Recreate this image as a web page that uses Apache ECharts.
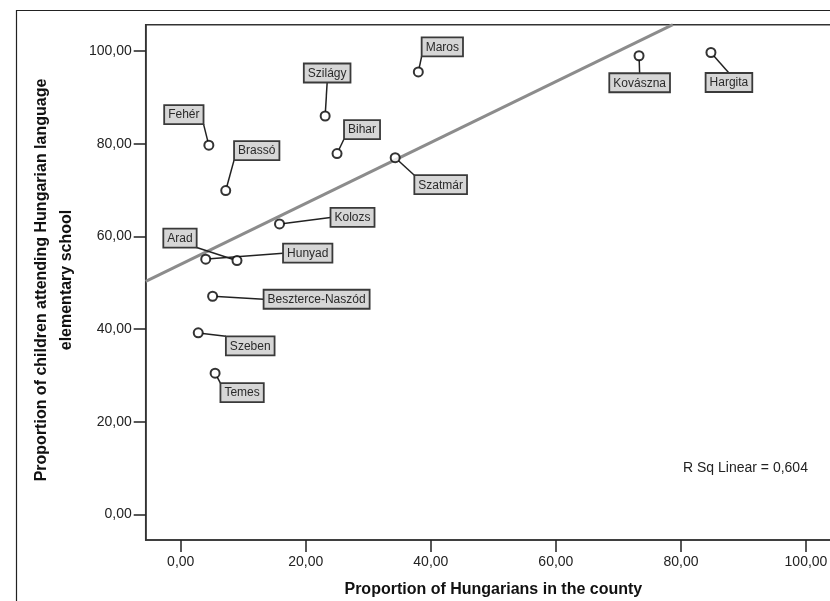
<!DOCTYPE html>
<html>
<head>
<meta charset="utf-8">
<script src="https://cdn.jsdelivr.net/npm/echarts@6/dist/echarts.min.js"></script>
<style>
html,body{margin:0;padding:0;background:#fff;}
#chart{width:830px;height:601px;}
</style>
</head>
<body>
<div id="chart"></div>
<script>
// ---- data ----
const counties = ['Maros','Kovászna','Hargita','Szilágy','Fehér','Bihar','Brassó','Szatmár','Kolozs','Arad','Hunyad','Beszterce-Naszód','Szeben','Temes'];
const hungarianShare = [38.0,73.3,84.8,23.1,4.5,25.0,7.2,34.3,15.8,9.0,4.0,5.1,2.8,5.5];
const schoolShare    = [95.5,99.0,99.7,86.0,79.7,77.9,69.9,77.0,62.7,54.8,55.1,47.1,39.2,30.5];
const xTicks = [0,20,40,60,80,100];
const yTicks = [0,20,40,60,80,100];
const fitLabel = 'R Sq Linear = 0,604';
const xTitle = 'Proportion of Hungarians in the county';
const yTitle = 'Proportion of children attending Hungarian language\nelementary school';

// ---- layout (pixel offsets of label boxes from their points) ----
const labelOffsets = [[24,-25],[0.6,27],[18,30],[2,-43],[-25,-30.5],[25,-24],[31,-40],[45.5,27],[73,-6.5],[-57,-22.5],[102,-6],[104,3],[52,13],[27,19.5]];

const X_MIN = -5.6, X_MAX = 105.6, Y_MIN = -5.5, Y_MAX = 105.7;
const FONT_FAMILY = "Arial, 'Liberation Sans', sans-serif";
const LABEL_FONT = '12px ' + FONT_FAMILY;

// least-squares fit
const n = hungarianShare.length;
const mx = hungarianShare.reduce((a,b)=>a+b,0)/n;
const my = schoolShare.reduce((a,b)=>a+b,0)/n;
let sxy = 0, sxx = 0;
for (let i=0;i<n;i++){ sxy += (hungarianShare[i]-mx)*(schoolShare[i]-my); sxx += (hungarianShare[i]-mx)*(hungarianShare[i]-mx); }
const slope = sxy/sxx, intercept = my - slope*mx;
const xEnd = Math.min(X_MAX, (Y_MAX - intercept)/slope);
const fitData = [[X_MIN, intercept + slope*X_MIN],[xEnd, intercept + slope*xEnd]];

const points = hungarianShare.map((x,i)=>[x, schoolShare[i]]);

const measureCtx = document.createElement('canvas').getContext('2d');
measureCtx.font = LABEL_FONT;

const fmt = v => v.toFixed(2).replace('.', ',');

const chart = echarts.init(document.getElementById('chart'), null, {renderer:'canvas'});

function renderLabel(params, api){
  const i = params.dataIndex;
  const p = api.coord([api.value(0), api.value(1)]);
  const off = labelOffsets[i];
  const text = counties[i];
  const tw = measureCtx.measureText(text).width;
  const w = tw + 8, h = 19;
  const cx = p[0] + off[0], cy = p[1] + off[1];
  const x0 = cx - w/2, x1 = cx + w/2, y0 = cy - h/2, y1 = cy + h/2;
  let ax, ay;
  const inX = p[0] >= x0 && p[0] <= x1;
  const inY = p[1] >= y0 && p[1] <= y1;
  if (inY) { ay = cy; ax = p[0] < x0 ? x0 : x1; }
  else if (inX) { ax = cx; ay = p[1] < y0 ? y0 : y1; }
  else { ax = p[0] < x0 ? x0 : x1; ay = p[1] < y0 ? y0 : y1; }
  const dx = ax - p[0], dy = ay - p[1];
  const d = Math.sqrt(dx*dx+dy*dy) || 1;
  const r = 4.5;
  return {
    type:'group',
    children:[
      {type:'line', shape:{x1:p[0]+dx/d*r, y1:p[1]+dy/d*r, x2:ax, y2:ay}, style:{stroke:'#222', lineWidth:1.5}},
      {type:'rect', shape:{x:x0, y:y0, width:w, height:h}, style:{fill:'#d6d6d6', stroke:'#3a3a3a', lineWidth:1.8}},
      {type:'text', style:{text:text, x:cx, y:cy+0.5, align:'center', verticalAlign:'middle', font:LABEL_FONT, fill:'#2a2a2a'}}
    ]
  };
}

const option = {
  animation:false,
  backgroundColor:'#fff',
  grid:{left:145.7, top:24.7, right:-11, bottom:61, containLabel:false, outerBoundsMode:'none', show:true, borderColor:'#333', borderWidth:1.5, backgroundColor:'transparent'},
  xAxis:{
    type:'value', min:X_MIN, max:X_MAX,
    name:xTitle, nameLocation:'middle', nameGap:42,
    nameTextStyle:{fontFamily:FONT_FAMILY, fontSize:16, fontWeight:'bold', color:'#111'},
    axisLine:{show:true, onZero:false, lineStyle:{color:'#333', width:1.5}},
    axisTick:{show:true, customValues:xTicks, length:12, lineStyle:{color:'#222', width:1.5}},
    axisLabel:{customValues:xTicks, formatter:fmt, margin:15, fontFamily:FONT_FAMILY, fontSize:14, color:'#222'},
    splitLine:{show:false}
  },
  yAxis:{
    type:'value', min:Y_MIN, max:Y_MAX,
    axisLine:{show:true, onZero:false, lineStyle:{color:'#333', width:1.5}},
    axisTick:{show:true, customValues:yTicks, length:12, lineStyle:{color:'#222', width:1.5}},
    axisLabel:{customValues:yTicks, formatter:fmt, margin:14, fontFamily:FONT_FAMILY, fontSize:14, color:'#222'},
    splitLine:{show:false}
  },
  graphic:[
    {type:'rect', shape:{x:16.5, y:10.5, width:900, height:700}, style:{fill:'none', stroke:'#222', lineWidth:1.2}, z:-1, silent:true},
    {type:'text', x:54, y:280, rotation:Math.PI/2, style:{text:yTitle, align:'center', verticalAlign:'middle', font:'bold 16px ' + FONT_FAMILY, fill:'#111', lineHeight:25}},
    {type:'text', x:683, y:468, style:{text:fitLabel, align:'left', verticalAlign:'middle', font:'14px ' + FONT_FAMILY, fill:'#222'}}
  ],
  series:[
    {type:'line', data:fitData, showSymbol:false, clip:true, lineStyle:{color:'#8c8c8c', width:3, cap:'butt'}, z:1, silent:true},
    {type:'custom', data:points, renderItem:renderLabel, clip:false, z:2, silent:true},
    {type:'scatter', data:points, symbol:'emptyCircle', symbolSize:9, itemStyle:{color:'#000', borderColor:'#000', borderWidth:2}, z:3, silent:true}
  ]
};
chart.setOption(option);
</script>
</body>
</html>
